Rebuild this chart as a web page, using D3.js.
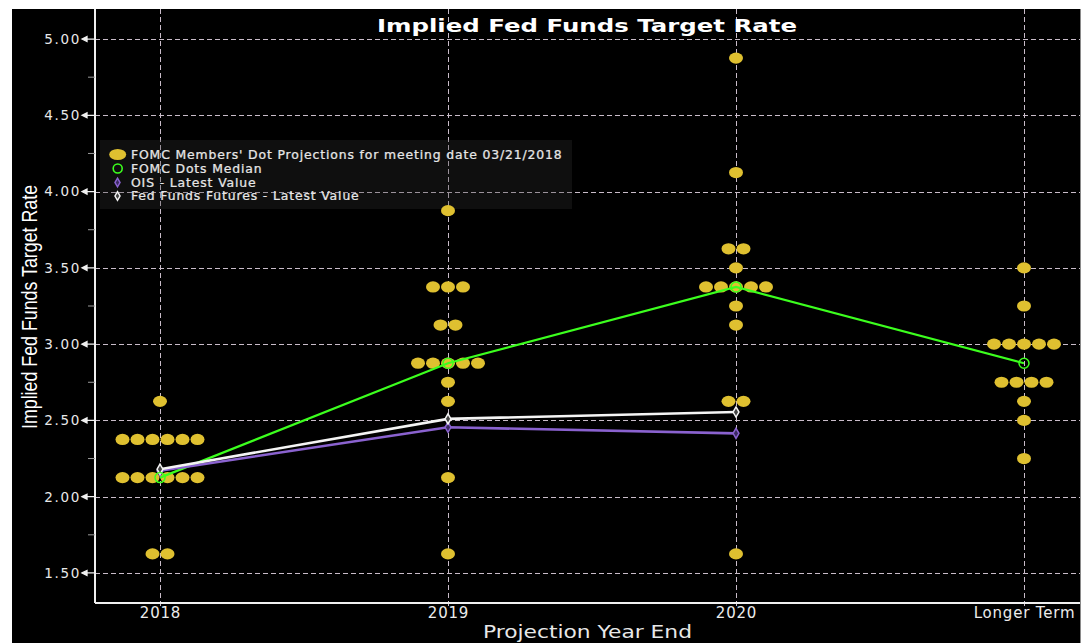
<!DOCTYPE html>
<html>
<head>
<meta charset="utf-8">
<script src="https://cdn.jsdelivr.net/npm/d3@7"></script>
<style>
  html, body { margin: 0; padding: 0; background: #ffffff; }
  svg { display: block; }
</style>
</head>
<body>
<svg id="chart" width="1092" height="643"></svg>
<script>
// ---------- DATA ----------
const categories = ["2018", "2019", "2020", "Longer Term"];
// FOMC dot projections: rate levels and number of participants at each level
const dotRates2018 = [2.625, 2.375, 2.125, 1.625];
const dotCounts2018 = [1, 6, 6, 2];
const dotRates2019 = [3.875, 3.375, 3.125, 2.875, 2.75, 2.625, 2.125, 1.625];
const dotCounts2019 = [1, 3, 2, 5, 1, 1, 1, 1];
const dotRates2020 = [4.875, 4.125, 3.625, 3.5, 3.375, 3.25, 3.125, 2.625, 1.625];
const dotCounts2020 = [1, 1, 2, 1, 5, 1, 1, 2, 1];
const dotRatesLT = [3.5, 3.25, 3.0, 2.75, 2.625, 2.5, 2.25];
const dotCountsLT = [1, 1, 5, 4, 1, 1, 1];
const medianValues = [2.125, 2.875, 3.375, 2.875];
const oisCategories = ["2018", "2019", "2020"];
const oisValues = [2.17, 2.455, 2.415];
const ffCategories = ["2018", "2019", "2020"];
const ffValues = [2.18, 2.51, 2.555];
const yTickValues = [1.5, 2.0, 2.5, 3.0, 3.5, 4.0, 4.5, 5.0];
const yMinorTickValues = [1.75, 2.25, 2.75, 3.25, 3.75, 4.25, 4.75];
const legendLabels = [
  "FOMC Members' Dot Projections for meeting date 03/21/2018",
  "FOMC Dots Median",
  "OIS - Latest Value",
  "Fed Funds Futures - Latest Value"
];
const titleText = "Implied Fed Funds Target Rate";
const yTitle = "Implied Fed Funds Target Rate";
const xTitle = "Projection Year End";

// ---------- LAYOUT ----------
const svg = d3.select("#chart");
const W = 1092, H = 643;
const plot = { left: 95, right: 1080, top: 9, bottom: 603 };

const dotSets = [
  { cat: categories[0], rates: dotRates2018, counts: dotCounts2018 },
  { cat: categories[1], rates: dotRates2019, counts: dotCounts2019 },
  { cat: categories[2], rates: dotRates2020, counts: dotCounts2020 },
  { cat: categories[3], rates: dotRatesLT, counts: dotCountsLT }
];

const x = d3.scalePoint().domain(categories).range([plot.left + 65, plot.right - 56]);
const y = d3.scaleLinear().domain([1.303, 5.197]).range([plot.bottom, plot.top]);

const verdana = "DejaVu Sans, Verdana, sans-serif";

// background
svg.append("rect").attr("x", 12).attr("y", 9).attr("width", plot.right - 12).attr("height", H - 9).attr("fill", "#000");
svg.append("line").attr("x1", plot.right + 0.5).attr("x2", plot.right + 0.5).attr("y1", 9).attr("y2", H)
  .attr("stroke", "#8a8a8a").attr("stroke-width", 1);

const gridColor = "#c9bcc9";
// horizontal grid
svg.append("g").selectAll("line").data(yTickValues).join("line")
  .attr("x1", plot.left).attr("x2", plot.right)
  .attr("y1", d => Math.round(y(d)) + 0.5).attr("y2", d => Math.round(y(d)) + 0.5)
  .attr("stroke", gridColor).attr("stroke-width", 1).attr("stroke-dasharray", "5,3");
// vertical grid
svg.append("g").selectAll("line").data(categories).join("line")
  .attr("x1", d => Math.round(x(d)) + 0.5).attr("x2", d => Math.round(x(d)) + 0.5)
  .attr("y1", plot.top).attr("y2", plot.bottom + 5)
  .attr("stroke", gridColor).attr("stroke-width", 1).attr("stroke-dasharray", "5,3");

// legend box (semi-transparent so grid shows through)
const legend = svg.append("g").attr("transform", "translate(100,140)");
legend.append("rect").attr("width", 472).attr("height", 69).attr("fill", "rgba(50,50,50,0.3)");

// dots
const dotColor = "#dfc030";
const dotSpacing = 15;
const dotData = [];
dotSets.forEach(s => {
  s.rates.forEach((r, i) => {
    const n = s.counts[i];
    for (let k = 0; k < n; k++) {
      dotData.push({ cat: s.cat, rate: r, off: (k - (n - 1) / 2) * dotSpacing });
    }
  });
});
svg.append("g").selectAll("ellipse").data(dotData).join("ellipse")
  .attr("cx", d => x(d.cat) + d.off).attr("cy", d => y(d.rate))
  .attr("rx", 7).attr("ry", 5.6).attr("fill", dotColor);

// lines
const line = d3.line().x(d => x(d[0])).y(d => y(d[1]));
const medianPts = categories.map((c, i) => [c, medianValues[i]]);
const oisPts = oisCategories.map((c, i) => [c, oisValues[i]]);
const ffPts = ffCategories.map((c, i) => [c, ffValues[i]]);

const green = "#3cff1e", purple = "#8a62cf", white = "#f4f4f4";

svg.append("path").datum(medianPts).attr("d", line).attr("fill", "none").attr("stroke", green).attr("stroke-width", 2.2);
svg.append("path").datum(oisPts).attr("d", line).attr("fill", "none").attr("stroke", purple).attr("stroke-width", 2.6);
svg.append("path").datum(ffPts).attr("d", line).attr("fill", "none").attr("stroke", white).attr("stroke-width", 2.6);

const diamond = d3.symbol().type(d3.symbolDiamond).size(30);
svg.append("g").selectAll("path").data(oisPts).join("path")
  .attr("transform", d => `translate(${x(d[0])},${y(d[1])})`).attr("d", diamond)
  .attr("fill", "#3a2a60").attr("stroke", purple).attr("stroke-width", 1.5);
svg.append("g").selectAll("path").data(ffPts).join("path")
  .attr("transform", d => `translate(${x(d[0])},${y(d[1])})`).attr("d", diamond)
  .attr("fill", "#444").attr("stroke", white).attr("stroke-width", 1.5);
svg.append("g").selectAll("circle").data(medianPts).join("circle")
  .attr("cx", d => x(d[0])).attr("cy", d => y(d[1])).attr("r", 5)
  .attr("fill", "none").attr("stroke", green).attr("stroke-width", 1.5);

// axes
const axisColor = "#f0f0f0";
svg.append("line").attr("x1", plot.left).attr("x2", plot.left).attr("y1", plot.top).attr("y2", plot.bottom)
  .attr("stroke", axisColor).attr("stroke-width", 2);
svg.append("line").attr("x1", plot.left).attr("x2", plot.right).attr("y1", plot.bottom).attr("y2", plot.bottom)
  .attr("stroke", axisColor).attr("stroke-width", 2);

// y major ticks with arrow heads
const yt = svg.append("g");
yt.selectAll("path.tk").data(yTickValues).join("path").attr("class", "tk")
  .attr("d", d => { const yy = y(d); return `M${plot.left},${yy} L86,${yy} M82,${yy} L87,${yy - 2.5} L87,${yy + 2.5} Z`; })
  .attr("stroke", axisColor).attr("stroke-width", 1.3).attr("fill", axisColor);
yt.selectAll("line.mn").data(yMinorTickValues).join("line").attr("class", "mn")
  .attr("x1", 88).attr("x2", plot.left).attr("y1", d => y(d)).attr("y2", d => y(d))
  .attr("stroke", "#9a9a9a").attr("stroke-width", 1);
yt.selectAll("text").data(yTickValues).join("text")
  .attr("x", 81).attr("y", d => y(d)).attr("dy", "0.36em").attr("text-anchor", "end")
  .attr("fill", "#e8e8e8").attr("font-family", verdana).attr("font-size", 13.5)
  .attr("letter-spacing", 1.7)
  .text(d => d3.format(".2f")(d));

// x ticks
const xt = svg.append("g");
xt.selectAll("text").data(categories).join("text")
  .attr("x", d => x(d) + 0.5).attr("y", 618).attr("text-anchor", "middle")
  .attr("fill", "#ececec").attr("font-family", verdana)
  .attr("font-size", 15).attr("letter-spacing", 0.8)
  .text(d => d);

// titles
svg.append("text").attr("x", 377).attr("y", 32)
  .attr("fill", "#ffffff").attr("font-family", verdana).attr("font-weight", "bold")
  .attr("font-size", 17).attr("textLength", 420).attr("lengthAdjust", "spacingAndGlyphs").text(titleText);
svg.append("text").attr("x", 483).attr("y", 638)
  .attr("fill", "#e8e8e8").attr("font-family", verdana)
  .attr("font-size", 18).attr("textLength", 209).attr("lengthAdjust", "spacingAndGlyphs").text(xTitle);
svg.append("text").attr("transform", "translate(37,307) rotate(-90) scale(0.81,1)").attr("text-anchor", "middle")
  .attr("fill", "#ffffff").attr("font-family", "Liberation Sans, Arial, sans-serif")
  .attr("font-size", 22).text(yTitle);

// legend content
const rowY = [14.5, 28.5, 42.5, 56];
legend.append("ellipse").attr("cx", 17.7).attr("cy", rowY[0]).attr("rx", 8.5).attr("ry", 5.5).attr("fill", dotColor);
legend.append("circle").attr("cx", 17.7).attr("cy", rowY[1]).attr("r", 4.5).attr("fill", "none").attr("stroke", green).attr("stroke-width", 1.6);
legend.append("path").attr("transform", `translate(17.5,${rowY[2]})`).attr("d", d3.symbol().type(d3.symbolDiamond).size(22))
  .attr("fill", "#3a2a60").attr("stroke", purple).attr("stroke-width", 1.5);
legend.append("path").attr("transform", `translate(17.5,${rowY[3]})`).attr("d", d3.symbol().type(d3.symbolDiamond).size(22))
  .attr("fill", "#444").attr("stroke", white).attr("stroke-width", 1.5);
const legText = legend.append("g").attr("transform", "translate(31,0)");
legText.selectAll("text").data(legendLabels).join("text")
  .attr("x", 0).attr("y", (d, i) => rowY[i]).attr("dy", "0.36em")
  .attr("fill", "#e6e6e6").attr("font-family", verdana).attr("font-size", 11.5)
  .attr("letter-spacing", 0.8).attr("stroke", "#e6e6e6").attr("stroke-width", 0.25)
  .text(d => d);
// stretch legend text so the first label spans the same width as in the source
const firstLen = legText.select("text").node().getComputedTextLength();
const sx = 432 / firstLen;
legText.attr("transform", `translate(31,0) scale(${sx},1)`);
</script>
</body>
</html>
